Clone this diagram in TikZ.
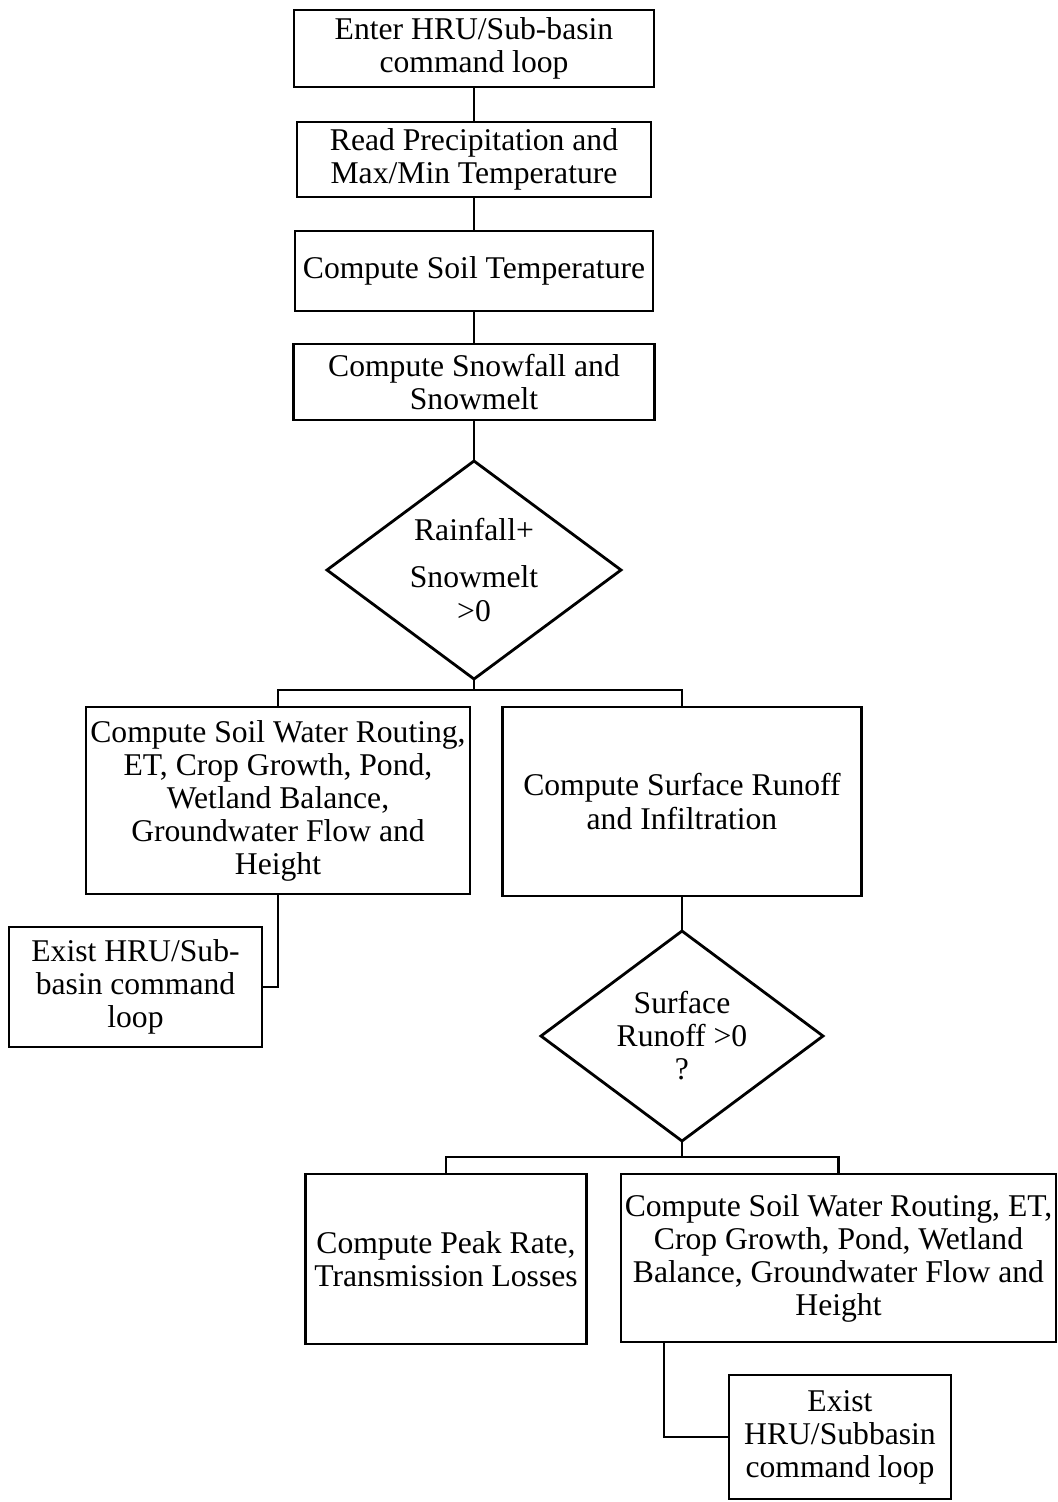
\documentclass[tikz,border=0pt]{standalone}
\usepackage{fontspec}
\setmainfont{Liberation Serif}
\usetikzlibrary{positioning,shapes.geometric}

\begin{document}
\begin{tikzpicture}[
	node distance=0.7cm,
	process/.style={rectangle, draw=black, line width=1.6pt, inner xsep=0.5pt, inner ysep=0pt, outer sep=0pt, align=center, font=\fontsize{18}{18.8}\selectfont},
	decision/.style={diamond, aspect=1.35, draw=black, line width=1.6pt, inner sep=0pt, outer sep=0pt, align=center, font=\fontsize{18}{18.8}\selectfont},
	link/.style={draw=black, line width=1.6pt}
]
\useasboundingbox (0,0) rectangle (21.16,-30.04);
\node (enter) [process, minimum width=7.2cm, minimum height=1.54cm] at (9.48,-0.97) {Enter HRU/Sub-basin\\command loop};
\node (read) [process, minimum width=7.08cm, minimum height=1.5cm, below=0.7cm of enter] {Read Precipitation and\\Max/Min Temperature};
\node (soiltemp) [process, minimum width=7.16cm, minimum height=1.6cm, below=0.68cm of read] {Compute Soil Temperature};
\node (snow) [process, minimum width=7.22cm, minimum height=1.52cm, below=0.66cm of soiltemp] {Compute Snowfall and\\Snowmelt};
\node (rain) [decision, minimum width=5.88cm, minimum height=4.36cm, below=0.82cm of snow] {Rainfall+\\[0.28cm]Snowmelt\\>0};
\node (soilwaterA) [process, minimum width=7.68cm, minimum height=3.74cm, below=0.56cm of rain, xshift=-3.92cm] {Compute Soil Water Routing,\\ET, Crop Growth, Pond,\\Wetland Balance,\\Groundwater Flow and\\Height};
\node (surface) [process, minimum width=7.18cm, minimum height=3.78cm, below=0.56cm of rain, xshift=4.16cm] {Compute Surface Runoff\\and Infiltration};
\node (exitA) [process, minimum width=5.06cm, minimum height=2.4cm, below=0.66cm of soilwaterA, xshift=-2.85cm] {Exist HRU/Sub-\\basin command\\loop};
\node (runoff) [decision, minimum width=5.64cm, minimum height=4.2cm, below=0.7cm of surface] {Surface\\Runoff >0\\?};
\node (peak) [process, minimum width=5.62cm, minimum height=3.4cm, below=0.66cm of runoff, xshift=-4.72cm] {Compute Peak Rate,\\Transmission Losses};
\node (soilwaterB) [process, minimum width=8.7cm, minimum height=3.36cm, below=0.66cm of runoff, xshift=3.13cm] {Compute Soil Water Routing, ET,\\Crop Growth, Pond, Wetland\\Balance, Groundwater Flow and\\Height};
\node (exitB) [process, minimum width=4.44cm, minimum height=2.48cm, below=0.66cm of soilwaterB, xshift=0.03cm] {Exist\\HRU/Subbasin\\command loop};
\coordinate (splitA) at ([yshift=-0.22cm]rain.south);
\coordinate (splitB) at ([yshift=-0.32cm]runoff.south);
\draw [link] (enter) -- (read);
\draw [link] (read) -- (soiltemp);
\draw [link] (soiltemp) -- (snow);
\draw [link] (snow) -- (rain);
\draw [link] (rain) -- (splitA);
\draw [link] (splitA) -| (soilwaterA.north);
\draw [link] (splitA) -| (surface.north);
\draw [link] (soilwaterA.south) |- (exitA.east);
\draw [link] (surface) -- (runoff);
\draw [link] (runoff) -- (splitB);
\draw [link] (splitB) -| (peak.north);
\draw [link] (splitB) -| (soilwaterB.north);
\draw [link] ([xshift=0.86cm]soilwaterB.south west) |- (exitB.west);
\end{tikzpicture}
\end{document}
